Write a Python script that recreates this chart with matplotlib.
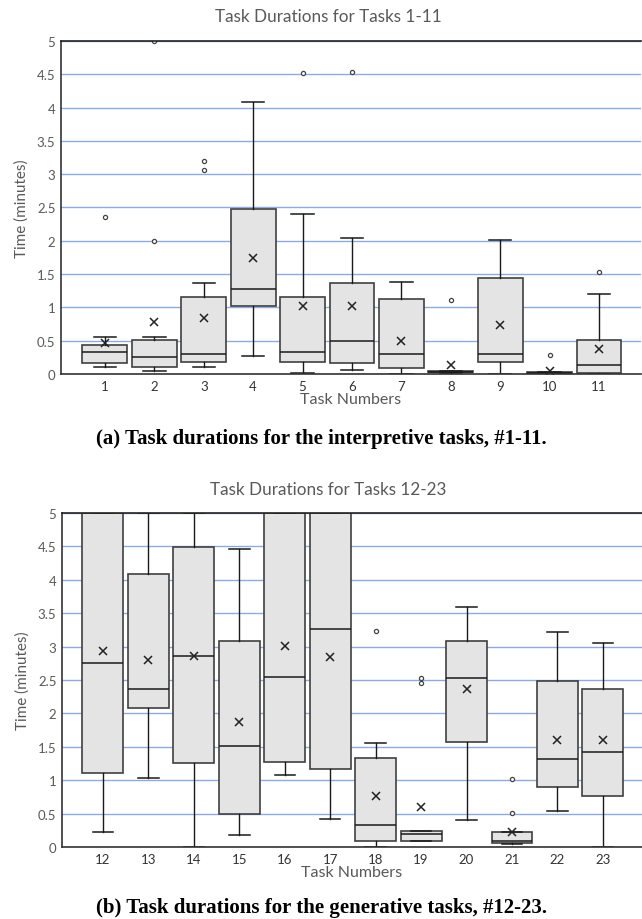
import matplotlib
matplotlib.use("Agg")
import matplotlib.pyplot as plt

# ---------------- data ----------------
tasks_a = [1, 2, 3, 4, 5, 6, 7, 8, 9, 10, 11]
low_a    = [0.10, 0.045, 0.10, 0.265, 0.02, 0.055, 0.00, 0.015, 0.00, 0.00, 0.00]
q1_a     = [0.16, 0.10, 0.18, 1.015, 0.18, 0.16, 0.085, 0.025, 0.18, 0.015, 0.02]
med_a    = [0.33, 0.25, 0.305, 1.275, 0.33, 0.49, 0.295, 0.035, 0.305, 0.02, 0.13]
q3_a     = [0.44, 0.51, 1.15, 2.47, 1.16, 1.37, 1.12, 0.05, 1.44, 0.03, 0.505]
high_a   = [0.55, 0.55, 1.37, 4.09, 2.40, 2.04, 1.38, 0.05, 2.01, 0.035, 1.20]
mean_a   = [0.465, 0.78, 0.845, 1.74, 1.025, 1.015, 0.49, 0.135, 0.73, 0.05, 0.37]
out_a    = [[2.35], [2.0, 5.0], [3.2, 3.07], [], [4.52], [4.54], [], [1.115], [], [0.29], [1.53]]

tasks_b = [12, 13, 14, 15, 16, 17, 18, 19, 20, 21, 22, 23]
low_b    = [0.22, 1.03, 0.00, 0.175, 1.08, 0.42, 0.00, 0.085, 0.405, 0.045, 0.54, 0.00]
q1_b     = [1.115, 2.085, 1.26, 0.49, 1.275, 1.165, 0.095, 0.095, 1.57, 0.055, 0.895, 0.77]
med_b    = [2.75, 2.36, 2.865, 1.505, 2.55, 3.265, 0.335, 0.20, 2.525, 0.09, 1.31, 1.42]
q3_b     = [5.0, 4.09, 4.49, 3.09, 5.0, 5.0, 1.335, 0.24, 3.085, 0.22, 2.49, 2.37]
high_b   = [5.0, 5.0, 5.0, 4.46, 5.0, 5.0, 1.555, 0.24, 3.59, 0.22, 3.22, 3.05]
mean_b   = [2.93, 2.80, 2.855, 1.875, 3.01, 2.84, 0.77, 0.595, 2.365, 0.22, 1.605, 1.595]
out_b    = [[], [], [], [], [], [], [3.24], [2.53, 2.45], [], [1.02, 0.51], [], []]

yticks = [0, 0.5, 1, 1.5, 2, 2.5, 3, 3.5, 4, 4.5, 5]
ytick_labels = ["0", "0.5", "1", "1.5", "2", "2.5", "3", "3.5", "4", "4.5", "5"]

title_a = "Task Durations for Tasks 1-11"
title_b = "Task Durations for Tasks 12-23"
caption_a = "(a) Task durations for the interpretive tasks, #1-11."
caption_b = "(b) Task durations for the generative tasks, #12-23."
xlabel = "Task Numbers"
ylabel = "Time (minutes)"

# ---------------- style ----------------
W, H = 642, 920
GRAY = "#595959"
GRID = "#8FAADC"
BOXFILL = "#E4E4E4"
EDGE = "#404040"
FONT = "Lato"

fig = plt.figure(figsize=(W / 100, H / 100), dpi=100)


def make_panel(rect, tasks, low, q1, med, q3, high, mean, outs, xlim, width, title, title_y, caption, caption_y):
    ax = fig.add_axes(rect)
    stats = []
    for i in range(len(tasks)):
        stats.append(dict(label=str(tasks[i]), whislo=low[i], q1=q1[i], med=med[i],
                          q3=q3[i], whishi=high[i], mean=mean[i], fliers=outs[i]))
    ax.bxp(stats, positions=tasks, widths=width, patch_artist=True,
           showmeans=True, meanline=False, showfliers=True,
           boxprops=dict(facecolor=BOXFILL, edgecolor=EDGE, linewidth=1.2),
           medianprops=dict(color="#1a1a1a", linewidth=1.1),
           whiskerprops=dict(color="#1a1a1a", linewidth=1.0),
           capprops=dict(color="#1a1a1a", linewidth=1.1),
           capwidths=width * 0.5,
           meanprops=dict(marker="x", markeredgecolor="#222222", markerfacecolor="#222222",
                          markersize=6, markeredgewidth=1.1),
           flierprops=dict(marker="o", markerfacecolor="white", markeredgecolor="#444444",
                           markersize=3, markeredgewidth=0.9))
    ax.set_xlim(*xlim)
    ax.set_ylim(0, 5)
    ax.set_yticks(yticks)
    ax.set_yticklabels(ytick_labels, fontsize=9.5, color=GRAY, family=FONT)
    ax.set_xticks(tasks)
    ax.set_xticklabels([str(t) for t in tasks], fontsize=9.5, color="#333333", family=FONT)
    ax.tick_params(length=0, pad=4)
    ax.grid(axis="y", color=GRID, linewidth=1.0, zorder=0)
    ax.set_axisbelow(True)
    ax.spines["right"].set_visible(False)
    ax.spines["left"].set_color("#333333")
    ax.spines["bottom"].set_color("#333333")
    ax.spines["top"].set_color("#222222")
    for s in ["left", "bottom", "top"]:
        ax.spines[s].set_linewidth(1.2)
    ax.set_xlabel(xlabel, fontsize=11.5, color=GRAY, family=FONT, labelpad=0)
    ax.set_ylabel(ylabel, fontsize=11, color=GRAY, family=FONT, labelpad=6)
    fig.text(328 / W, 1 - title_y / H, title, ha="center", va="center",
             fontsize=12.3, color=GRAY, family=FONT)
    fig.text(0.5, 1 - caption_y / H, caption, ha="center", va="center",
             fontsize=15, fontweight="bold", family="Liberation Serif", color="black")
    return ax


make_panel([61 / W, 1 - 375 / H, 580 / W, 333 / H], tasks_a, low_a, q1_a, med_a, q3_a, high_a,
           mean_a, out_a, (0.11, 11.85), 0.91, title_a, 17, caption_a, 439)
make_panel([62 / W, 1 - 848 / H, 580 / W, 334 / H], tasks_b, low_b, q1_b, med_b, q3_b, high_b,
           mean_b, out_b, (11.1, 23.86), 0.9, title_b, 490, caption_b, 908)

fig.savefig("out.png", dpi=100)
